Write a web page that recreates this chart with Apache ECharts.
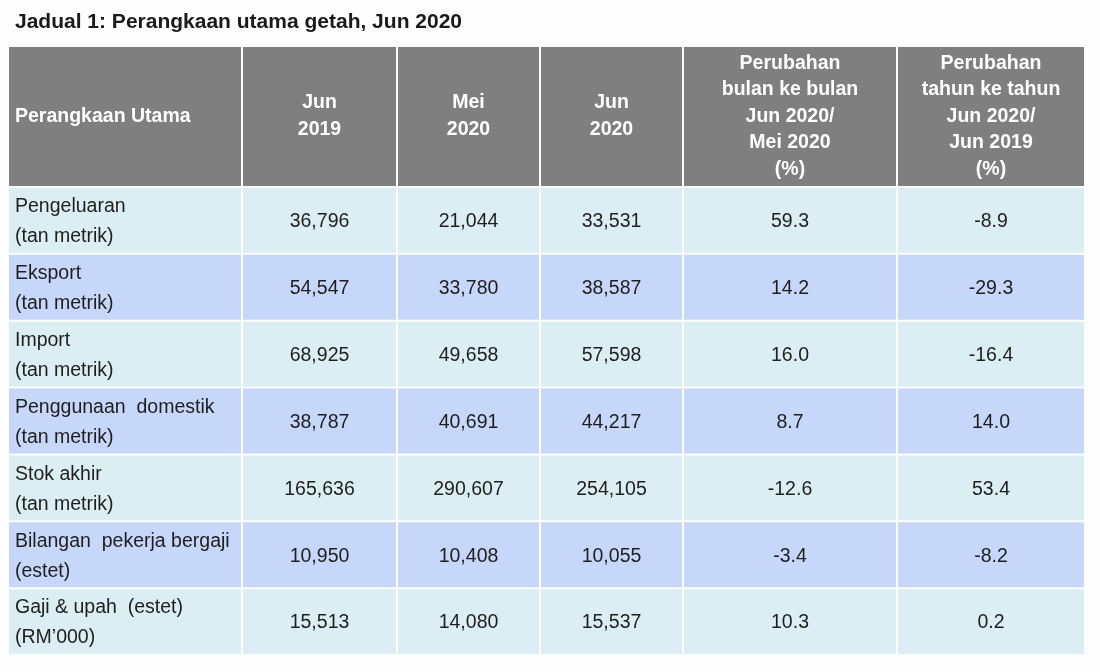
<!DOCTYPE html>
<html>
<head>
<meta charset="utf-8">
<script src="https://cdn.jsdelivr.net/npm/echarts@6/dist/echarts.min.js"></script>
<style>
  html, body { margin: 0; padding: 0; background: #fdfdfd; }
  #chart { width: 1100px; height: 672px; }
</style>
</head>
<body>
<div id="chart"></div>
<script>
// ---- data ----
const titleText = 'Jadual 1: Perangkaan utama getah, Jun 2020';
const headers = [
  'Perangkaan Utama',
  'Jun\n2019',
  'Mei\n2020',
  'Jun\n2020',
  'Perubahan\nbulan ke bulan\nJun 2020/\nMei 2020\n(%)',
  'Perubahan\ntahun ke tahun\nJun 2020/\nJun 2019\n(%)'
];
const categories = [
  'Pengeluaran\n(tan metrik)',
  'Eksport\n(tan metrik)',
  'Import\n(tan metrik)',
  'Penggunaan  domestik\n(tan metrik)',
  'Stok akhir\n(tan metrik)',
  'Bilangan  pekerja bergaji\n(estet)',
  'Gaji & upah  (estet)\n(RM\u2019000)'
];
const jun2019 = [36796, 54547, 68925, 38787, 165636, 10950, 15513];
const mei2020 = [21044, 33780, 49658, 40691, 290607, 10408, 14080];
const jun2020 = [33531, 38587, 57598, 44217, 254105, 10055, 15537];
const momPct  = [59.3, 14.2, 16.0, 8.7, -12.6, -3.4, 10.3];
const yoyPct  = [-8.9, -29.3, -16.4, 14.0, 53.4, -8.2, 0.2];

// ---- layout (styles / sizes) ----
const colWidths = [234, 155, 143, 143, 214, 188];
const headerHeight = 141;
const rowHeight = 66.86;
const colEdges = [0];
colWidths.forEach(w => colEdges.push(colEdges[colEdges.length - 1] + w));
const rowEdges = [0, headerHeight];
categories.forEach(() => rowEdges.push(rowEdges[rowEdges.length - 1] + rowHeight));
const totalW = colEdges[colEdges.length - 1];
const totalH = rowEdges[rowEdges.length - 1];

const FONT = '"Liberation Sans", Arial, sans-serif';
const headerBg = '#7f7f7f';
const lightBg = '#dbeef4';
const blueBg = '#c6d7fa';

const fmtInt = v => v.toLocaleString('en-US');
const fmtPct = v => v.toFixed(1);

// build cell list
const cells = [];
headers.forEach((h, c) => cells.push({ col: c, row: 0, text: h }));
categories.forEach((cat, r) => {
  const cols = [cat, fmtInt(jun2019[r]), fmtInt(mei2020[r]), fmtInt(jun2020[r]), fmtPct(momPct[r]), fmtPct(yoyPct[r])];
  cols.forEach((t, c) => cells.push({ col: c, row: r + 1, text: t }));
});

const chart = echarts.init(document.getElementById('chart'), null, { renderer: 'canvas' });

chart.setOption({
  backgroundColor: '#fdfdfd',
  animation: false,
  title: {
    text: titleText,
    left: 10,
    top: 7,
    textStyle: { fontFamily: FONT, fontSize: 21, fontWeight: 'bold', color: '#1a1a1a' }
  },
  grid: { left: 8, right: 15, top: 46, bottom: 17 },
  xAxis: { type: 'value', min: 0, max: totalW, show: false },
  yAxis: { type: 'value', min: 0, max: totalH, inverse: true, show: false },
  series: [{
    type: 'custom',
    clip: false,
    silent: true,
    data: cells.map(c => [c.col, c.row]),
    renderItem: function (params, api) {
      const c = cells[params.dataIndex];
      const p0 = api.coord([colEdges[c.col], rowEdges[c.row]]);
      const p1 = api.coord([colEdges[c.col + 1], rowEdges[c.row + 1]]);
      const x0 = Math.min(p0[0], p1[0]), x1 = Math.max(p0[0], p1[0]);
      const y0 = Math.min(p0[1], p1[1]), y1 = Math.max(p0[1], p1[1]);
      const isHeader = c.row === 0;
      const fill = isHeader ? headerBg : (c.row % 2 === 1 ? lightBg : blueBg);
      const leftCol = c.col === 0;
      const nLines = c.text.split('\n').length;
      const lh = isHeader ? (nLines > 2 ? 26.6 : 27) : 30;
      return {
        type: 'group',
        children: [
          {
            type: 'rect',
            shape: { x: x0 + 1, y: y0 + 1, width: x1 - x0 - 2, height: y1 - y0 - 2 },
            style: { fill: fill }
          },
          {
            type: 'text',
            x: leftCol ? x0 + 7 : (x0 + x1) / 2,
            y: (y0 + y1) / 2 + (isHeader ? 0 : 1.5),
            style: {
              text: c.text,
              x: 0, y: 0,
              fill: isHeader ? '#ffffff' : '#1e1e1e',
              font: (isHeader ? 'bold ' : '') + '19.5px ' + FONT,
              align: leftCol ? 'left' : 'center',
              verticalAlign: 'middle',
              lineHeight: lh
            }
          }
        ]
      };
    }
  }]
});
</script>
</body>
</html>
